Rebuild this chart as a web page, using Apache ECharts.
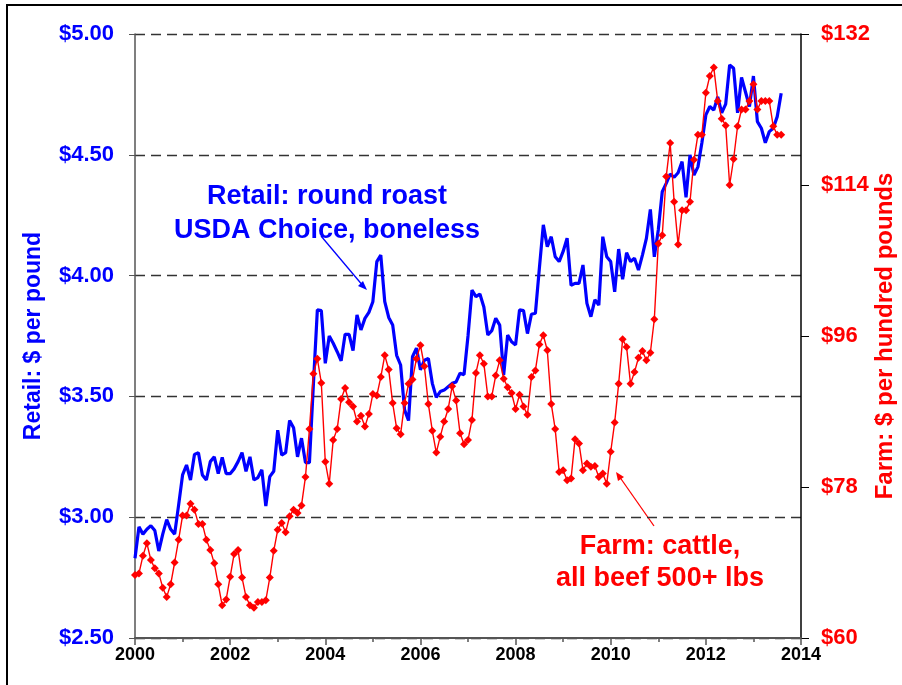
<!DOCTYPE html>
<html>
<head>
<meta charset="utf-8">
<script src="https://cdn.jsdelivr.net/npm/echarts@6/dist/echarts.min.js"></script>
<style>
  html, body { margin: 0; padding: 0; background: #fff; }
  #main { width: 902px; height: 685px; }
</style>
</head>
<body>
<div id="main"></div>
<script>
// monthly series, Jan 2000 .. Aug 2013
var startYear = 2000;

// retail round roast, USDA Choice, boneless ($ per pound)
var retail = [
  2.83, 2.96, 2.93, 2.95, 2.965, 2.945, 2.86, 2.93, 2.99, 2.95,
  2.93, 3.05, 3.175, 3.216, 3.154, 3.26, 3.267, 3.175, 3.154, 3.23,
  3.25, 3.18, 3.248, 3.18, 3.18, 3.2, 3.23, 3.267, 3.19, 3.25,
  3.154, 3.164, 3.196, 3.046, 3.168, 3.19, 3.36, 3.257, 3.267, 3.40,
  3.37, 3.25, 3.327, 3.226, 3.226, 3.55, 3.858, 3.855, 3.637, 3.75,
  3.72, 3.685, 3.647, 3.757, 3.757, 3.69, 3.837, 3.775, 3.823, 3.848,
  3.892, 4.058, 4.085, 3.892, 3.827, 3.796, 3.67, 3.63, 3.444, 3.40,
  3.664, 3.70, 3.61, 3.65, 3.657, 3.554, 3.496, 3.52, 3.526, 3.54,
  3.554, 3.56, 3.596, 3.59, 3.75, 3.94, 3.913, 3.924, 3.87, 3.754,
  3.772, 3.823, 3.795, 3.589, 3.754, 3.726, 3.713, 3.858, 3.855, 3.76,
  3.84, 3.844, 4.03, 4.21, 4.12, 4.161, 4.078, 4.058, 4.10, 4.155,
  3.96, 3.968, 3.968, 4.044, 3.885, 3.83, 3.90, 3.878, 4.161, 4.078,
  4.058, 3.933, 4.11, 3.985, 4.095, 4.058, 4.072, 4.023, 4.085, 4.154,
  4.274, 4.078, 4.189, 4.347, 4.382, 4.42, 4.407, 4.426, 4.472, 4.324,
  4.50, 4.416, 4.45, 4.55, 4.665, 4.70, 4.685, 4.74, 4.674, 4.71,
  4.872, 4.858, 4.674, 4.82, 4.76, 4.70, 4.826, 4.637, 4.61, 4.55,
  4.596, 4.61, 4.658, 4.755
];

// farm: cattle, all beef 500+ lbs ($ per hundred pounds)
var farm = [
  67.5, 67.7, 69.8, 71.3, 69.3, 68.3, 67.7, 66.0, 64.9, 66.4,
  69.0, 71.7, 74.6, 74.6, 76.0, 75.3, 73.6, 73.6, 71.7, 70.5,
  68.9, 66.4, 63.9, 64.6, 67.3, 70.0, 70.5, 67.2, 64.9, 63.9,
  63.6, 64.3, 64.3, 64.5, 67.2, 70.4, 72.9, 73.7, 72.6, 74.5,
  75.3, 74.9, 75.8, 79.2, 84.9, 91.5, 93.3, 90.4, 81.0, 78.4,
  83.6, 84.9, 88.5, 89.8, 88.1, 87.6, 85.8, 86.5, 85.2, 86.7,
  89.1, 88.9, 91.1, 93.7, 92.0, 88.0, 85.0, 84.3, 88.0, 90.3,
  90.8, 93.3, 94.9, 92.4, 87.9, 84.7, 82.1, 84.0, 85.8, 87.3,
  90.0, 88.3, 84.4, 83.1, 83.6, 86.0, 91.6, 93.7, 92.7, 88.8,
  88.8, 91.3, 93.1, 90.9, 89.9, 89.2, 87.3, 89.0, 87.6, 86.6,
  91.1, 91.9, 95.0, 96.1, 94.3, 87.9, 84.9, 79.8, 80.0, 78.8,
  79.0, 83.7, 83.2, 80.0, 80.8, 80.4, 80.5, 79.2, 79.6, 78.4,
  82.2, 85.7, 90.3, 95.6, 94.7, 90.3, 91.7, 93.4, 94.2, 93.1,
  94.0, 98.0, 107.0, 108.0, 115.0, 119.0, 112.0, 106.9, 111.0, 111.0,
  112.0, 117.0, 120.0, 120.0, 125.0, 127.0, 128.0, 124.0, 121.9, 121.1,
  114.0, 117.1, 121.0, 123.0, 123.0, 124.0, 126.0, 123.0, 124.0, 124.0,
  124.0, 121.0, 120.0, 120.0
];

var retailName = 'Retail: round roast, USDA Choice, boneless';
var farmName = 'Farm: cattle, all beef 500+ lbs';
var leftAxisName = 'Retail: $ per pound';
var rightAxisName = 'Farm: $ per hundred pounds';

function monthly(values) {
  return values.map(function (v, i) { return [startYear + i / 12, v]; });
}

var BLUE = '#0000FF';
var RED = '#FF0000';
var FONT = 'Liberation Sans, Arial, sans-serif';

var myChart = echarts.init(document.getElementById('main'));

var option = {
  animation: false,
  grid: { left: 135, right: 101, top: 34, bottom: 47, containLabel: false, outerBoundsMode: 'none' },
  xAxis: {
    type: 'value',
    min: 2000, max: 2014, interval: 2,
    axisLine: { lineStyle: { color: '#555', width: 2 } },
    axisTick: { length: 7, lineStyle: { color: '#555', width: 1.5 } },
    minorTick: { show: true, splitNumber: 2, length: 4, lineStyle: { color: '#555', width: 1.5 } },
    axisLabel: {
      color: '#000', fontWeight: 'bold', fontSize: 18, fontFamily: FONT, margin: 8,
      formatter: function (v) { return String(v); }
    },
    splitLine: { show: false }
  },
  yAxis: [
    {
      type: 'value', position: 'left',
      min: 2.5, max: 5, interval: 0.5,
      name: leftAxisName, nameLocation: 'middle', nameRotate: 90, nameGap: 90,
      nameMoveOverlap: false,
      nameTextStyle: { color: BLUE, fontWeight: 'bold', fontSize: 23, fontFamily: FONT },
      axisLine: { show: true, lineStyle: { color: '#555', width: 1.5 } },
      axisTick: { show: true, length: 6, lineStyle: { color: '#555' } },
      axisLabel: {
        color: BLUE, fontWeight: 'bold', fontSize: 22, fontFamily: FONT, margin: 21,
        formatter: function (v) { return '$' + v.toFixed(2); }
      },
      splitLine: { show: true, lineStyle: { color: '#333', width: 1.3, type: [10, 6] } }
    },
    {
      type: 'value', position: 'right',
      min: 60, max: 132, interval: 18,
      name: rightAxisName, nameLocation: 'middle', nameRotate: 90, nameGap: 72,
      nameMoveOverlap: false,
      nameTextStyle: { color: RED, fontWeight: 'bold', fontSize: 24, fontFamily: FONT },
      axisLine: { show: true, lineStyle: { color: '#000', width: 1.5 } },
      axisTick: { show: true, length: 8, lineStyle: { color: '#000' } },
      axisLabel: {
        color: RED, fontWeight: 'bold', fontSize: 22, fontFamily: FONT, margin: 20,
        formatter: function (v) { return '$' + v; }
      },
      splitLine: { show: false }
    }
  ],
  series: [
    {
      name: retailName,
      type: 'line',
      yAxisIndex: 0,
      data: monthly(retail),
      showSymbol: false,
      symbol: 'none',
      lineStyle: { color: BLUE, width: 3.2 },
      itemStyle: { color: BLUE },
      z: 2
    },
    {
      name: farmName,
      type: 'line',
      yAxisIndex: 1,
      data: monthly(farm),
      symbol: 'diamond',
      symbolSize: 8,
      lineStyle: { color: RED, width: 1.4 },
      itemStyle: { color: RED },
      z: 3
    }
  ],
  graphic: [
    { type: 'rect', shape: { x: 7, y: 5, width: 910, height: 700 }, style: { fill: null, stroke: '#000', lineWidth: 2 }, silent: true },
    {
      type: 'text', x: 327, y: 180, silent: true,
      style: { text: 'Retail: round roast\nUSDA Choice, boneless', align: 'center', verticalAlign: 'top',
        fill: BLUE, font: 'bold 27px ' + FONT, lineHeight: 34 }
    },
    { type: 'line', shape: { x1: 321, y1: 236, x2: 364, y2: 287 }, style: { stroke: BLUE, lineWidth: 1.3 }, silent: true },
    { type: 'polygon', shape: { points: [[367, 290], [358, 286], [363, 281]] }, style: { fill: BLUE }, silent: true },
    {
      type: 'text', x: 660, y: 531, silent: true,
      style: { text: 'Farm: cattle,\nall beef 500+ lbs', align: 'center', verticalAlign: 'top',
        fill: RED, font: 'bold 27px ' + FONT, lineHeight: 32 }
    },
    { type: 'line', shape: { x1: 654, y1: 526, x2: 619, y2: 476 }, style: { stroke: RED, lineWidth: 1.3 }, silent: true },
    { type: 'polygon', shape: { points: [[616, 472], [624, 477], [618, 481]] }, style: { fill: RED }, silent: true }
  ]
};

myChart.setOption(option);
</script>
</body>
</html>
